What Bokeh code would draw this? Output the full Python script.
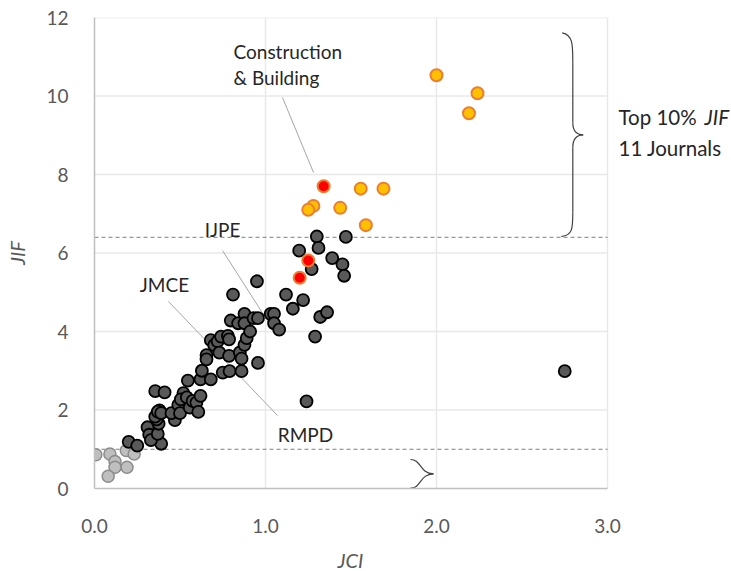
from bokeh.plotting import figure
from bokeh.models import Label, FixedTicker, Range1d, Title
from bokeh.embed import file_html
from bokeh.resources import INLINE

# ---------------- data ----------------
gray_jci = [0.008, 0.09, 0.12, 0.12, 0.08, 0.186, 0.232, 0.19]
gray_jif = [0.86, 0.88, 0.69, 0.54, 0.31, 0.97, 0.88, 0.54]

dark_jci = [0.20, 0.25, 0.39, 0.31, 0.32, 0.33, 0.37, 0.375, 0.363, 0.355,
            0.38, 0.37, 0.39, 0.355, 0.41, 0.47, 0.45, 0.49, 0.50, 0.52,
            0.505, 0.54, 0.557, 0.574, 0.596, 0.607, 0.62, 0.546, 0.62, 0.628,
            0.68, 0.655, 0.655, 0.68, 0.70, 0.72, 0.73, 0.74, 0.75, 0.78,
            0.787, 0.787, 0.79, 0.797, 0.81, 0.84, 0.85, 0.86, 0.86, 0.877,
            0.877, 0.877, 0.89, 0.91, 0.93, 0.95, 0.956, 0.956, 1.03, 1.05,
            1.05, 1.08, 1.12, 1.16, 1.22, 1.197, 1.24, 1.27, 1.29, 1.30,
            1.31, 1.32, 1.36, 1.39, 1.45, 1.46, 1.47, 2.75]
dark_jif = [1.19, 1.09, 1.14, 1.56, 1.37, 1.23, 1.39, 1.65, 1.76, 1.83,
            1.99, 1.96, 1.92, 2.48, 2.45, 1.74, 1.92, 2.13, 1.92, 2.43,
            2.27, 2.32, 2.06, 2.23, 2.19, 1.95, 2.36, 2.75, 2.78, 3.00,
            2.78, 3.40, 3.29, 3.78, 3.65, 3.75, 3.46, 3.87, 2.95, 3.89,
            3.80, 3.38, 2.99, 4.28, 4.94, 4.21, 3.47, 2.99, 3.31, 4.45,
            4.21, 3.66, 3.83, 4.00, 4.34, 5.28, 4.34, 3.20, 4.45, 4.45,
            4.21, 4.05, 4.94, 4.58, 4.80, 6.06, 2.22, 5.59, 3.87, 6.42,
            6.13, 4.37, 4.49, 5.87, 5.71, 5.42, 6.41, 2.99]

top_jci = [2.00, 2.24, 2.19, 1.557, 1.69, 1.28, 1.25, 1.437, 1.587]
top_jif = [10.53, 10.07, 9.56, 7.64, 7.64, 7.20, 7.10, 7.15, 6.71]

red_jci = [1.34, 1.25, 1.20]
red_jif = [7.70, 5.81, 5.37]

top_cut = 6.4
low_cut = 1.0

x_ticks = [0, 1, 2, 3]
x_tick_labels = ["0.0", "1.0", "2.0", "3.0"]
y_ticks = [0, 2, 4, 6, 8, 10, 12]
y_tick_labels = ["0", "2", "4", "6", "8", "10", "12"]

FONT = "Lato"
GREY_TXT = "#595959"

X_MAX = x_ticks[-1]
# frame extends to the right edge of the canvas so that the side notes can be drawn
X_VIEW = (731 - 94) / 171.0

p = figure(width=731, height=571, output_backend="svg", toolbar_location=None,
           x_range=Range1d(0, X_VIEW), y_range=Range1d(0, 12),
           min_border_left=94, min_border_right=0,
           min_border_top=17, min_border_bottom=83)
p.outline_line_color = None
p.background_fill_color = "white"
p.border_fill_color = "white"

def px2x(px):
    return (px - 94) / 171.0

def py2y(py):
    return (488 - py) / 39.25

for ax in (p.xaxis, p.yaxis):
    ax.major_tick_line_color = None
    ax.minor_tick_line_color = None
    ax.axis_line_color = "#bfbfbf"
    ax.axis_line_width = 1.5
    ax.major_label_text_font = FONT
    ax.major_label_text_font_size = "19px"
    ax.major_label_text_color = GREY_TXT
    ax.axis_label_text_font = FONT
    ax.axis_label_text_font_size = "20px"
    ax.axis_label_text_font_style = "italic"
    ax.axis_label_text_color = GREY_TXT

p.xaxis.bounds = (0, X_MAX)
p.xaxis.ticker = FixedTicker(ticks=x_ticks)
p.xaxis.major_label_overrides = dict(zip(x_ticks, x_tick_labels))
p.yaxis.ticker = FixedTicker(ticks=y_ticks)
p.yaxis.major_label_overrides = dict(zip(y_ticks, y_tick_labels))
p.yaxis.axis_label = "JIF"
p.xaxis.major_label_standoff = 24
p.yaxis.major_label_standoff = 20
p.yaxis.axis_label_standoff = 14
# small blank spacer between tick labels and the x title
p.xaxis.axis_label = "\u00a0"
p.xaxis.axis_label_text_font_size = "6px"
p.xaxis.axis_label_standoff = 0

# x-axis title, centred under the 0..3 data span
p.add_layout(Title(text="JCI", align="left", offset=243, text_font=FONT,
                   text_font_size="20px", text_font_style="italic",
                   text_color=GREY_TXT, standoff=0), "below")

GRID = "#e8e8e8"
p.xgrid.grid_line_color = GRID
p.xgrid.grid_line_width = 1.5
p.ygrid.grid_line_color = None
p.segment(x0=[0] * len(y_ticks[1:]), x1=[X_MAX] * len(y_ticks[1:]),
          y0=y_ticks[1:], y1=y_ticks[1:], line_color=GRID, line_width=1.5)

# dashed thresholds
p.segment(x0=[0, 0], x1=[X_MAX, X_MAX], y0=[top_cut, low_cut], y1=[top_cut, low_cut],
          line_color="#7f7f7f", line_width=1, line_dash="4 3")

# leader lines
leader_col = "#a6a6a6"
p.line([px2x(282), px2x(313)], [py2y(97), py2y(172)], line_color=leader_col, line_width=1)
p.line([px2x(222), px2x(270)], [py2y(250), py2y(325)], line_color=leader_col, line_width=1)
p.line([px2x(168), px2x(277)], [py2y(301), py2y(415)], line_color=leader_col, line_width=1)

# points
p.scatter(gray_jci, gray_jif, size=12, fill_color="#bfbfbf", line_color="#8c8c8c", line_width=1.5)
p.scatter(dark_jci, dark_jif, size=12, fill_color="#595959", line_color="#000000", line_width=1.8)
p.scatter(top_jci, top_jif, size=12, fill_color="#ffc000", line_color="#ed7d31", line_width=2)
p.scatter(red_jci, red_jif, size=12, fill_color="#ff0000", line_color="#ed7d31", line_width=2)

# braces
brace_col = "#404040"
def bez(pts):
    (x0, y0), (c0x, c0y), (c1x, c1y), (x1, y1) = pts
    p.bezier(x0=[px2x(x0)], y0=[py2y(y0)], x1=[px2x(x1)], y1=[py2y(y1)],
             cx0=[px2x(c0x)], cy0=[py2y(c0y)], cx1=[px2x(c1x)], cy1=[py2y(c1y)],
             line_color=brace_col, line_width=1.2)

bez([(561.7, 32.3), (572.5, 34), (572.3, 45), (572.3, 62)])
p.line([px2x(572.3)] * 2, [py2y(62), py2y(122)], line_color=brace_col, line_width=1.2)
bez([(572.3, 122), (572.3, 131), (576, 134.3), (582.7, 134.3)])
bez([(582.7, 134.3), (576, 134.5), (572.3, 138), (572.3, 147)])
p.line([px2x(572.3)] * 2, [py2y(147), py2y(212)], line_color=brace_col, line_width=1.2)
bez([(572.3, 212), (572.3, 228), (572, 235), (560.7, 236)])

bez([(410, 459), (421, 459), (419, 473), (433, 473.3)])
bez([(433, 473.3), (419, 473.5), (421, 487.7), (410, 487.7)])

def lab(txt, px, py, align="left", style="normal", color="#262626", size="19px"):
    p.add_layout(Label(x=px2x(px), y=py2y(py), text=txt, text_font=FONT,
                       text_font_size=size, text_color=color, text_align=align,
                       text_baseline="middle", text_font_style=style))

lab("Construction", 233, 51)
lab("& Building", 233, 77)
lab("IJPE", 222, 229, align="center")
lab("JMCE", 164, 284, align="center")
lab("RMPD", 305, 434, align="center")
lab("Top 10%", 618, 116, size="20.5px")
lab("JIF", 704, 116, style="italic", size="20.5px")
lab("11 Journals", 618, 147, size="20.5px")

open("out.html", "w").write(file_html(p, INLINE))
